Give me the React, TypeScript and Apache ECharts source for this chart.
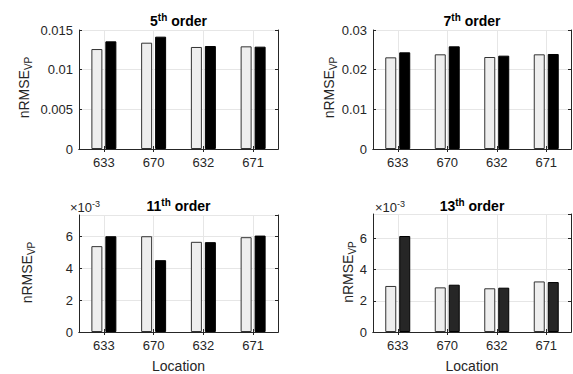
import React, { useEffect, useRef } from 'react';
import * as echarts from 'echarts';

const locations = ['633', '670', '632', '671'];

const order5Light = [0.0126, 0.0134, 0.01286, 0.01294];
const order5Dark = [0.01357, 0.01416, 0.01298, 0.0129];
const order7Light = [0.02311, 0.02387, 0.02319, 0.02387];
const order7Dark = [0.02437, 0.02588, 0.02353, 0.02395];
const order11Light = [0.00538, 0.006, 0.00565, 0.00594];
const order11Dark = [0.006, 0.0045, 0.00563, 0.00604];
const order13Light = [0.00295, 0.00286, 0.0028, 0.00324];
const order13Dark = [0.00615, 0.00303, 0.00284, 0.0032];

const orders = ['5', '7', '11', '13'];
const yMaxes = [0.015, 0.03, 0.00733, 0.00756];
const yIntervals = [0.005, 0.01, 0.002, 0.002];

const FONT = 'Liberation Sans, Arial, Helvetica, sans-serif';
const AX = '#262626';
const GRIDC = '#e6e6e6';

const layout = [
  { left: 79, top: 30, width: 199, height: 119, ylx: 24, scaled: false, dark: '#000000', title: 21 },
  { left: 373, top: 30, width: 198, height: 119, ylx: 329, scaled: false, dark: '#000000', title: 21 },
  { left: 79, top: 215, width: 199, height: 119, ylx: 27, scaled: true, dark: '#000000', title: 206, exp: 70 },
  { left: 373, top: 214, width: 198, height: 120, ylx: 348, scaled: true, dark: '#262626', title: 206, exp: 375 },
];

export default function App() {
  const ref = useRef<HTMLDivElement>(null);
  useEffect(() => {
    if (!ref.current) return;
    const chart = echarts.init(ref.current, null, { renderer: 'svg' });
    const lights = [order5Light, order7Light, order11Light, order13Light];
    const darks = [order5Dark, order7Dark, order11Dark, order13Dark];

    const grid: any[] = [];
    const xAxis: any[] = [];
    const yAxis: any[] = [];
    const series: any[] = [];
    const graphic: any[] = [];

    layout.forEach((L, i) => {
      grid.push({ left: L.left, top: L.top, width: L.width, height: L.height, show: false });
      const line = { show: true, lineStyle: { color: AX, width: 1 } };
      const tick = { show: true, inside: true, length: 3, lineStyle: { color: AX } };
      xAxis.push({
        type: 'category', gridIndex: i, data: locations, position: 'bottom', boundaryGap: true,
        axisLine: line, axisTick: { ...tick, alignWithLabel: true },
        axisLabel: { color: AX, fontSize: 13, fontFamily: FONT, margin: 7 },
        splitLine: { show: true, alignWithLabel: true, lineStyle: { color: GRIDC, width: 1 } },
        name: i >= 2 ? 'Location' : '', nameLocation: 'middle', nameGap: 27,
        nameTextStyle: { color: AX, fontSize: 14, fontFamily: FONT },
      });
      xAxis.push({
        type: 'category', gridIndex: i, data: locations, position: 'top', boundaryGap: true,
        axisLine: line, axisTick: { ...tick, alignWithLabel: true },
        axisLabel: { show: false }, splitLine: { show: false },
      });
      yAxis.push({
        type: 'value', gridIndex: i, position: 'left', min: 0, max: yMaxes[i], interval: yIntervals[i],
        axisLine: line, axisTick: tick,
        axisLabel: {
          color: AX, fontSize: 13, fontFamily: FONT, margin: 6, showMaxLabel: !L.scaled,
          formatter: (v: number) => (L.scaled ? String(Math.round(v * 1000)) : String(+v.toFixed(4))),
        },
        splitLine: { show: true, lineStyle: { color: GRIDC, width: 1 } },
      });
      yAxis.push({
        type: 'value', gridIndex: i, position: 'right', min: 0, max: yMaxes[i], interval: yIntervals[i],
        axisLine: line, axisTick: tick, axisLabel: { show: false }, splitLine: { show: false },
      });
      series.push({
        type: 'bar', xAxisIndex: 2 * i, yAxisIndex: 2 * i, data: lights[i], barWidth: 11, barGap: '27%',
        itemStyle: { color: '#eeeeee', borderColor: '#333333', borderWidth: 1 },
      });
      series.push({
        type: 'bar', xAxisIndex: 2 * i, yAxisIndex: 2 * i, data: darks[i], barWidth: 11, barGap: '27%',
        itemStyle: { color: L.dark, borderColor: '#000000', borderWidth: 1 },
      });
      graphic.push({
        type: 'text', x: L.left + L.width / 2, y: L.title,
        style: {
          text: `{b|${orders[i]}}{s|th}{b| order}`, align: 'center', verticalAlign: 'middle',
          rich: {
            b: { fontSize: 14, fontWeight: 'bold', fontFamily: FONT, fill: '#000', lineHeight: 18 },
            s: { fontSize: 10, fontWeight: 'bold', fontFamily: FONT, fill: '#000', verticalAlign: 'top', lineHeight: 10 },
          },
        },
      });
      graphic.push({
        type: 'text', x: L.ylx, y: L.top + L.height / 2 - 2, rotation: Math.PI / 2,
        style: {
          text: '{n|nRMSE}{s|VP}', align: 'center', verticalAlign: 'middle',
          rich: {
            n: { fontSize: 14, fontFamily: FONT, fill: AX, lineHeight: 18 },
            s: { fontSize: 10, fontFamily: FONT, fill: AX, verticalAlign: 'bottom', lineHeight: 10 },
          },
        },
      });
      if (L.scaled) {
        graphic.push({
          type: 'text', x: L.exp, y: 207,
          style: {
            text: '{n|×10}{s|-3}', align: 'left', verticalAlign: 'middle',
            rich: {
              n: { fontSize: 13, fontFamily: FONT, fill: AX, lineHeight: 16 },
              s: { fontSize: 9, fontFamily: FONT, fill: AX, verticalAlign: 'top', lineHeight: 9 },
            },
          },
        });
      }
    });

    chart.setOption({
      animation: false,
      backgroundColor: '#ffffff',
      grid, xAxis, yAxis, series, graphic,
    });
    return () => chart.dispose();
  }, []);
  return <div ref={ref} style={{ position: 'fixed', left: 0, top: 0, width: 573, height: 374 }} />;
}
